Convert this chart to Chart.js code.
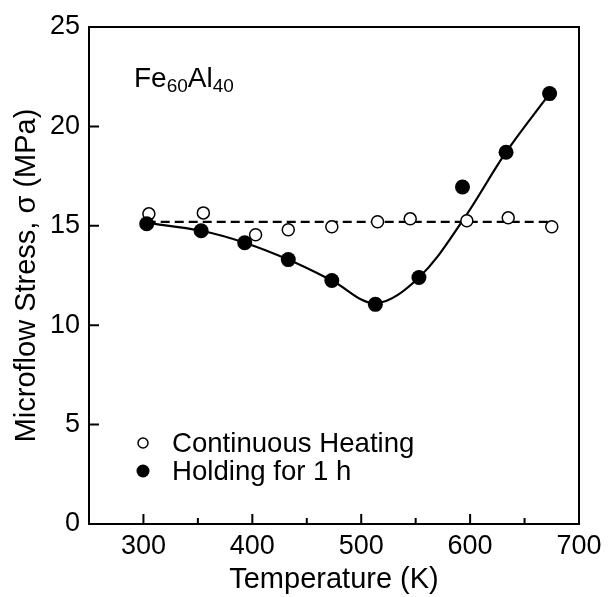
<!DOCTYPE html>
<html>
<head>
<meta charset="utf-8">
<script src="https://cdn.jsdelivr.net/npm/chart.js@4"></script>
<style>
  html, body { margin: 0; padding: 0; background: #fff; }
  #wrap { width: 611px; height: 597px; }
</style>
</head>
<body>
<div id="wrap"><canvas id="stressChart" width="611" height="597"></canvas></div>
<script>
/* datos */

const heatTemps = [305, 355, 403, 433, 473, 515, 545, 597, 635, 675];
const heatStress = [15.6, 15.65, 14.55, 14.8, 14.95, 15.2, 15.35, 15.25, 15.4, 14.95];

const holdTemps = [303, 353, 393, 433, 473, 513, 553, 593, 633, 673];
const holdStress = [15.1, 14.75, 14.15, 13.3, 12.25, 11.05, 12.4, 16.95, 18.7, 21.65];

// linea discontinua (promedio) y curva ajustada
const heatFitTemps = [303, 673];
const heatFitStress = [15.2, 15.2];
const holdFitTemps = [303, 353, 393, 433, 473, 513, 553, 593, 633, 673];
const holdFitStress = [15.15, 14.75, 14.15, 13.3, 12.25, 11.1, 12.4, 15.25, 18.7, 21.65];

const xMajorTicks = [300, 400, 500, 600, 700];
const xMinorTicks = [350, 450, 550, 650];
const yMajorTicks = [0, 5, 10, 15, 20, 25];

const legendLabels = ["Continuous Heating", "Holding for 1 h"];

const FONT = "'Liberation Sans', Arial, sans-serif";

const toPoints = (xs, ys) => xs.map((x, i) => ({x: x, y: ys[i]}));

/* plugin: marco, ticks hacia adentro, leyenda y rotulo */

const framePlugin = {
    id: "frame",
    afterDatasetsDraw(chart) {
        const {ctx, chartArea: a, scales} = chart;
        ctx.save();
        ctx.strokeStyle = "#000";
        ctx.lineWidth = 2;
        ctx.strokeRect(a.left, a.top, a.right - a.left, a.bottom - a.top);

        ctx.beginPath();
        xMajorTicks.forEach(v => {
            const px = scales.x.getPixelForValue(v);
            ctx.moveTo(px, a.bottom);
            ctx.lineTo(px, a.bottom - 10);
        });
        xMinorTicks.forEach(v => {
            const px = scales.x.getPixelForValue(v);
            ctx.moveTo(px, a.bottom);
            ctx.lineTo(px, a.bottom - 6);
        });
        yMajorTicks.forEach(v => {
            const py = scales.y.getPixelForValue(v);
            ctx.moveTo(a.left, py);
            ctx.lineTo(a.left + 10, py);
        });
        ctx.stroke();

        // leyenda
        ctx.fillStyle = "#000";
        ctx.font = "27.6px " + FONT;
        ctx.textBaseline = "middle";
        ctx.textAlign = "left";
        ctx.lineWidth = 1.5;
        ctx.beginPath();
        ctx.arc(143, 443, 5, 0, Math.PI * 2);
        ctx.fillStyle = "#fff";
        ctx.fill();
        ctx.stroke();
        ctx.fillStyle = "#000";
        ctx.beginPath();
        ctx.arc(143, 471, 6.5, 0, Math.PI * 2);
        ctx.fill();
        ctx.fillText(legendLabels[0], 172, 444);
        ctx.fillText(legendLabels[1], 172, 472);

        // Fe60Al40
        ctx.textBaseline = "alphabetic";
        let x = 134;
        const parts = [["Fe", 28, 0], ["60", 19, 5], ["Al", 28, 0], ["40", 19, 5]];
        parts.forEach(([txt, size, dy]) => {
            ctx.font = size + "px " + FONT;
            ctx.fillText(txt, x, 87 + dy);
            x += ctx.measureText(txt).width;
        });
        ctx.restore();
    }
};

const config = {
    type: "scatter",
    data: {
        datasets: [
            {
                label: "heatFit",
                type: "line",
                data: toPoints(heatFitTemps, heatFitStress),
                borderColor: "#000",
                borderWidth: 2.2,
                borderDash: [9, 5],
                pointRadius: 0,
                fill: false,
                order: 4
            },
            {
                label: "holdFit",
                type: "line",
                data: toPoints(holdFitTemps, holdFitStress),
                borderColor: "#000",
                borderWidth: 2.2,
                pointRadius: 0,
                tension: 0.35,
                fill: false,
                order: 3
            },
            {
                label: legendLabels[0],
                data: toPoints(heatTemps, heatStress),
                pointRadius: 6,
                pointBorderWidth: 1.5,
                pointBackgroundColor: "#fff",
                pointBorderColor: "#000",
                order: 2
            },
            {
                label: legendLabels[1],
                data: toPoints(holdTemps, holdStress),
                pointRadius: 7.5,
                pointBorderWidth: 0,
                pointBackgroundColor: "#000",
                pointBorderColor: "#000",
                order: 1
            }
        ]
    },
    options: {
        responsive: false,
        animation: false,
        layout: { padding: { top: 27, right: 32, left: 0, bottom: 0 } },
        plugins: {
            legend: { display: false },
            tooltip: { enabled: false }
        },
        scales: {
            x: {
                type: "linear",
                min: 250,
                max: 700,
                afterBuildTicks: (scale) => { scale.ticks = xMajorTicks.map(v => ({value: v})); },
                afterFit: (scale) => { scale.height = 73; },
                grid: { display: false, drawTicks: false },
                border: { display: false },
                ticks: { color: "#000", padding: 6, font: { family: FONT, size: 27 }, maxRotation: 0 },
                title: {
                    display: true,
                    text: "Temperature (K)",
                    color: "#000",
                    font: { family: FONT, size: 29 },
                    padding: { top: 0, bottom: 0 }
                }
            },
            y: {
                type: "linear",
                min: 0,
                max: 25,
                afterBuildTicks: (scale) => { scale.ticks = yMajorTicks.map(v => ({value: v})); },
                afterFit: (scale) => { scale.width = 89; },
                grid: { display: false, drawTicks: false },
                border: { display: false },
                ticks: { color: "#000", padding: 9, font: { family: FONT, size: 27 } },
                title: {
                    display: true,
                    text: "Microflow Stress, σ (MPa)",
                    color: "#000",
                    font: { family: FONT, size: 29 },
                    padding: { top: 10, bottom: 0 }
                }
            }
        }
    },
    plugins: [framePlugin]
};

const stressChart = new Chart(document.getElementById("stressChart"), config);
</script>
</body>
</html>
